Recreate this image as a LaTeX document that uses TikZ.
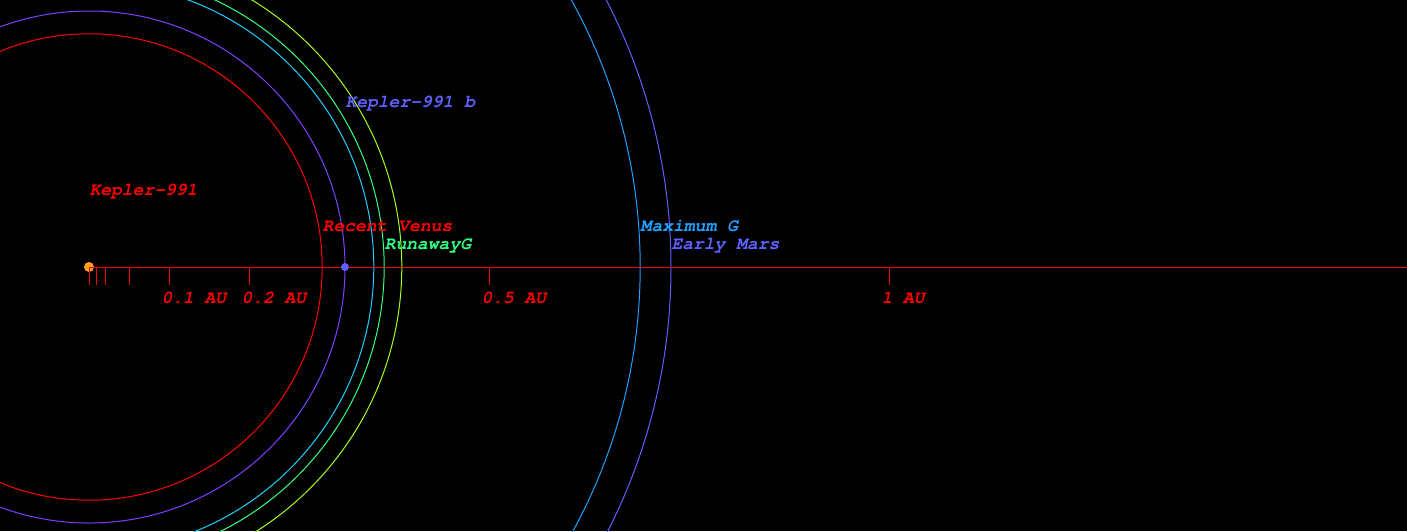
\documentclass[tikz,border=0pt]{standalone}
\usepackage[T1]{fontenc}
\usepackage{fontspec}
\usepackage{xcolor}
\definecolor{colStar}{HTML}{FFA020}
\definecolor{colPlanet}{HTML}{6060FF}
\definecolor{colOrbit}{HTML}{8040FF}
\definecolor{colVenus}{HTML}{FF0000}
\definecolor{colCyan}{HTML}{20D0FF}
\definecolor{colRunaway}{HTML}{30FF80}
\definecolor{colLime}{HTML}{A0FF20}
\definecolor{colMaxG}{HTML}{20A0FF}
\definecolor{colMars}{HTML}{6060FF}
\usetikzlibrary{positioning}

\begin{document}
\begin{tikzpicture}[x=600pt, y=600pt, line width=0.75pt,
		lbl/.style={anchor=base west, inner sep=0pt, font=\fontencoding{T1}\fontfamily{pcr}\fontseries{b}\fontshape{sl}\fontsize{13.5pt}{14pt}\selectfont}]
				\fill[black] (-0.11125,-0.33) rectangle (1.6475,0.33375);
				\useasboundingbox (-0.11125,-0.33) rectangle (1.6475,0.33375);
				% orbits and zones
				\node[circle, fill=colStar, inner sep=0pt, minimum size=7.5pt] (star) at (0,0) {};
				\draw[colVenus] (star.center) circle[radius=0.2915];
				\draw[colOrbit] (star.center) circle[radius=0.32];
				\draw[colCyan] (star.center) circle[radius=0.356];
				\draw[colRunaway] (star.center) circle[radius=0.369];
				\draw[colLime] (star.center) circle[radius=0.391];
				\draw[colMaxG] (star.center) circle[radius=0.689];
				\draw[colMars] (star.center) circle[radius=0.7275];
				% scale
				\coordinate (axisEnd) at (1.6475,0);
				\draw[colVenus] (star.center) -- (axisEnd);
				\foreach \d in {0,0.01,0.02,0.05,0.1,0.2,0.5,1}
					\draw[colVenus] (\d,0) -- ++(0,-0.0225);
				\foreach \d/\t in {0.1/0.1 AU,0.2/0.2 AU,0.5/0.5 AU,1/1 AU}
					\node[lbl, colVenus] (au\d) at (\d-0.01,-0.045) {\t};
				\node[circle, fill=colPlanet, inner sep=0pt, minimum size=6pt] (planet) at (0.32,0) {};
				% labels
				\node[lbl, colVenus] (starLabel) at (0,0.09) {Kepler-991};
				\node[lbl, colPlanet] (planetLabel) at (0.32,0.2) {Kepler-991 b};
				\node[lbl, colVenus] (venusLabel) at (0.2915,0.045) {Recent Venus};
				\node[lbl, colRunaway] (runawayLabel) at (0.369,0.0225) {RunawayG};
				\node[lbl, colMaxG] (maxgLabel) at (0.689,0.045) {Maximum G};
				\node[lbl, colMars] (marsLabel) at (0.7275,0.0225) {Early Mars};
			\end{tikzpicture}
\end{document}
